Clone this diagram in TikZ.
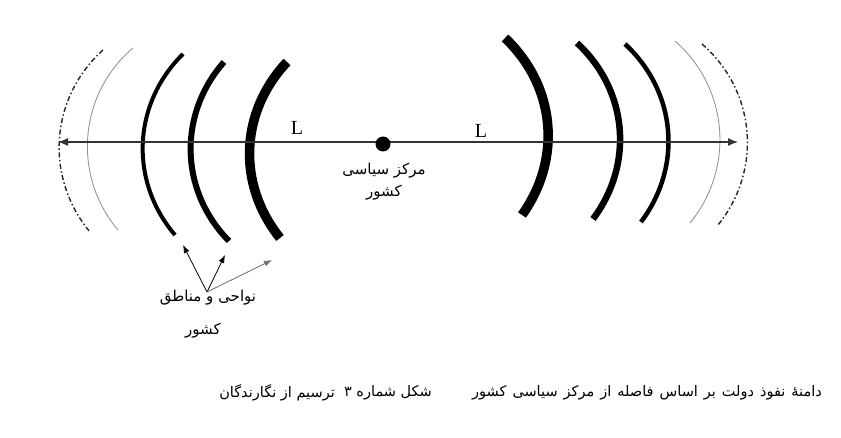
\documentclass[tikz,border=0pt]{standalone}
\usepackage{fontspec}
\setmainfont{Liberation Serif}
\newfontfamily\fa[Script=Arabic]{DejaVu Sans}
\TeXXeTstate=1
\usetikzlibrary{arrows.meta,calc}
\begin{document}
\begin{tikzpicture}[x=1pt,y=-1pt,
  zone/.style={line cap=butt,draw=black},
  faint/.style={draw=black!45,line width=0.8pt},
  dashdot/.style={draw=black!85,line width=1.4pt,dash pattern=on 5pt off 2.5pt on 1.5pt off 2.5pt},
  axisline/.style={draw=black!80,line width=1.3pt,{Latex[length=10pt,width=8pt]}-{Latex[length=10pt,width=8pt]}},
  ptr/.style={-{Latex[length=8pt,width=6pt]},line width=0.8pt},
  fatxt/.style={font=\fa\fontsize{15}{18}\selectfont,inner sep=0pt},
  captxt/.style={font=\fa\fontsize{14.5}{17}\selectfont,inner sep=0pt},
  Ltxt/.style={font=\fontsize{20}{24}\selectfont,inner sep=0pt}]
\useasboundingbox (0,0) rectangle (841,438);
\fill[white] (0,0) rectangle (841,438);
% left zones
\coordinate (dLt) at (103,50);   \coordinate (dLb) at (90,232);
\coordinate (gLt) at (133,48);   \coordinate (gLb) at (118,230);
\coordinate (aLt) at (183,54);   \coordinate (aLb) at (175,235);
\coordinate (bLt) at (224,62);   \coordinate (bLb) at (229,241);
\coordinate (cLt) at (287,62);   \coordinate (cLb) at (280,238);
\draw[dashdot] (dLt) to[bend right=44] (dLb);
\draw[faint] (gLt) to[bend right=45] (gLb);
\draw[zone,line width=4pt] (aLt) to[bend right=43] (aLb);
\draw[zone,line width=6pt] (bLt) to[bend right=43] (bLb);
\draw[zone,line width=9.5pt] (cLt) to[bend right=41] (cLb);
% right zones
\coordinate (cRt) at (505,38);   \coordinate (cRb) at (522,215);
\coordinate (bRt) at (577,43);   \coordinate (bRb) at (593,219);
\coordinate (aRt) at (625,44);   \coordinate (aRb) at (641,222);
\coordinate (gRt) at (675,41);   \coordinate (gRb) at (690,223);
\coordinate (dRt) at (702,44);   \coordinate (dRb) at (718,225);
\draw[zone,line width=9.5pt] (cRt) to[bend left=41] (cRb);
\draw[zone,line width=6.5pt] (bRt) to[bend left=42] (bRb);
\draw[zone,line width=4.5pt] (aRt) to[bend left=42] (aRb);
\draw[faint] (gRt) to[bend left=44] (gRb);
\draw[dashdot] (dRt) to[bend left=44] (dRb);
% axis
\coordinate (axL) at (58,142);
\coordinate (axR) at (738,142);
\draw[axisline] (axL) -- (axR);
\node[circle,fill=black,minimum size=15pt,inner sep=0pt] (ctr) at (383,144) {};
\node[Ltxt] (L1) at (297,128) {L};
\node[Ltxt] (L2) at (481,131) {L};
% centre label
\node[fatxt] (cl1) at (384,171) {\beginR مرکز سیاسی\endR};
\node[fatxt] (cl2) at (384,193) {\beginR کشور\endR};
% zones label
\node[fatxt] (zl1) at (208,298) {\beginR نواحی و مناطق\endR};
\node[fatxt] (zl2) at (203,331) {\beginR کشور\endR};
\coordinate (src) at (207,292);
\coordinate (t1) at (183,245);
\coordinate (t2) at (225,255);
\coordinate (t3) at (272,260);
\draw[ptr] (src) -- (t1);
\draw[ptr] (src) -- (t2);
\draw[ptr,draw=black!55,fill=black!55] (src) -- (t3);
% caption
\node[captxt,anchor=east] (cap1) at (822,393) {\spaceskip=6pt\beginR دامنهٔ نفوذ دولت بر اساس فاصله از مرکز سیاسی کشور\endR};
\node[captxt,anchor=east] (cap2) at (432,393) {\beginR شکل شماره ۳\endR};
\node[captxt,anchor=east] (cap3) at (335,393) {\beginR ترسیم از نگارندگان\endR};
\end{tikzpicture}
\end{document}
